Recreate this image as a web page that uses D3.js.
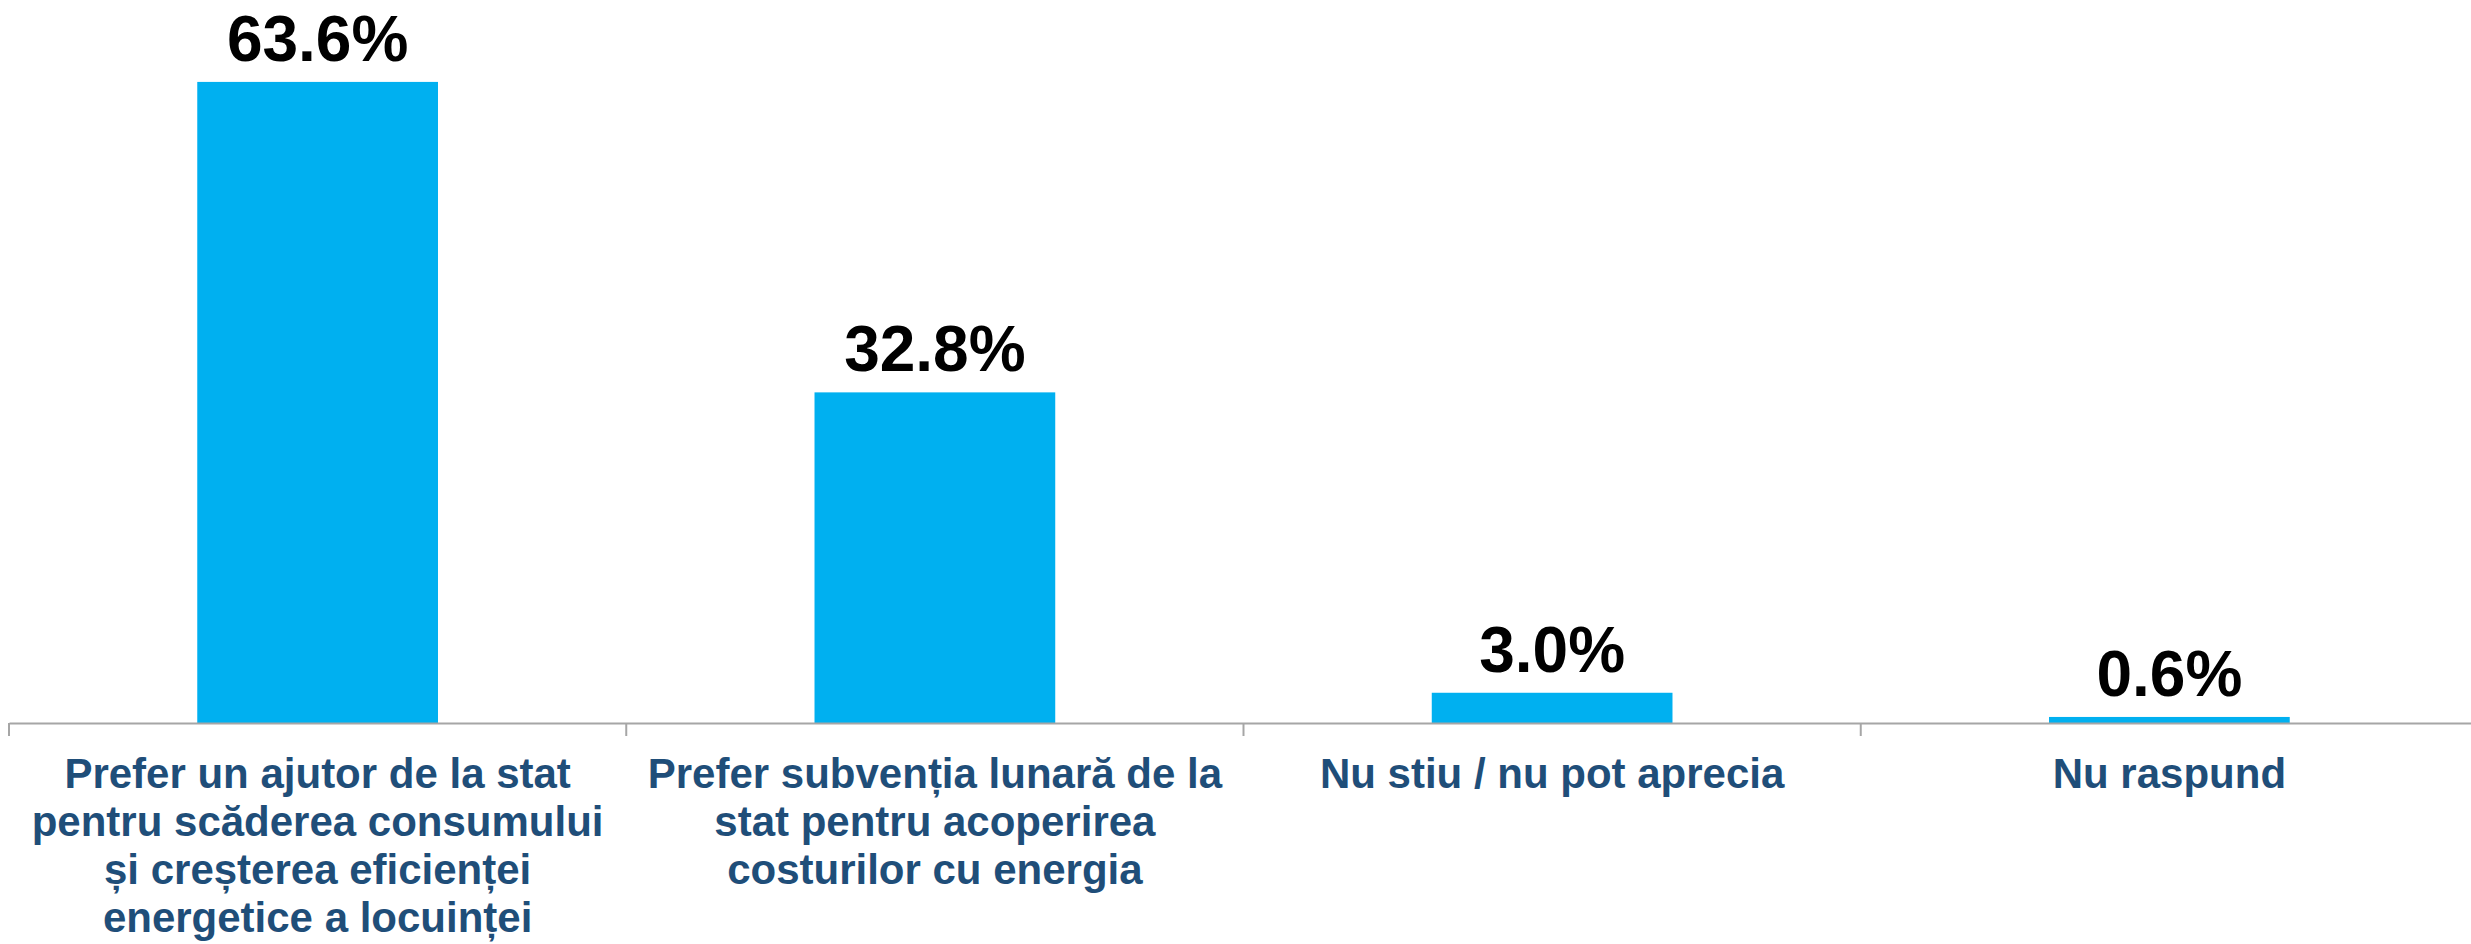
<!DOCTYPE html>
<html>
<head>
<meta charset="utf-8">
<script src="https://cdn.jsdelivr.net/npm/d3@7"></script>
<style>
  body { margin: 0; background: #fff; }
  svg { display: block; font-family: "Liberation Sans", Arial, sans-serif; }
</style>
</head>
<body>
<svg width="2471" height="944"></svg>
<script>
const categories = ['Prefer ajutor', 'Prefer subventia', 'Nu stiu', 'Nu raspund'];
const values = [63.6, 32.8, 3.0, 0.6];
const labelLines = [
    ['Prefer un ajutor de la stat', 'pentru scăderea consumului', 'și creșterea eficienței', 'energetice a locuinței'],
    ['Prefer subvenția lunară de la', 'stat pentru acoperirea', 'costurilor cu energia'],
    ['Nu stiu / nu pot aprecia'],
    ['Nu raspund']
];

const data = categories.map((c, i) => ({ category: c, value: values[i], lines: labelLines[i] }));

const svg = d3.select('svg');
const baseline = 723;

const xScale = d3.scaleBand()
    .domain(categories)
    .range([9, 2478])
    .paddingInner(0.61)
    .paddingOuter(0.305);

const yScale = d3.scaleLinear()
    .domain([0, 70])
    .range([baseline, baseline - 70 * 10.08]);

// bars
svg.append('g').selectAll('rect')
    .data(data)
    .join('rect')
    .attr('x', d => xScale(d.category))
    .attr('y', d => yScale(d.value))
    .attr('width', xScale.bandwidth())
    .attr('height', d => yScale(0) - yScale(d.value))
    .attr('fill', '#00b0f0');

// value labels
svg.append('g').selectAll('text')
    .data(data)
    .join('text')
    .attr('x', d => xScale(d.category) + xScale.bandwidth() / 2)
    .attr('y', d => yScale(d.value) - 21)
    .attr('text-anchor', 'middle')
    .attr('font-size', 64)
    .attr('font-weight', 'bold')
    .attr('fill', '#000')
    .text(d => d.value.toFixed(1) + '%');

// x axis
const xAxisG = svg.append('g')
    .attr('transform', `translate(0, ${baseline})`)
    .call(d3.axisBottom(xScale).tickSize(0).tickFormat(''));
xAxisG.select('.domain').attr('stroke', '#a6a6a6').attr('stroke-width', 2);

// tick marks between categories
xAxisG.selectAll('.sep')
    .data(categories)
    .join('line')
    .attr('class', 'sep')
    .attr('x1', d => xScale(d) - xScale.step() * xScale.paddingOuter())
    .attr('x2', d => xScale(d) - xScale.step() * xScale.paddingOuter())
    .attr('y1', 0)
    .attr('y2', 13)
    .attr('stroke', '#a6a6a6')
    .attr('stroke-width', 2);

// category labels
const labelG = svg.append('g').selectAll('text')
    .data(data)
    .join('text')
    .attr('text-anchor', 'middle')
    .attr('font-size', 42)
    .attr('font-weight', 'bold')
    .attr('fill', '#1f4e79');

labelG.selectAll('tspan')
    .data(d => d.lines.map(line => ({ line, cx: xScale(d.category) + xScale.bandwidth() / 2 })))
    .join('tspan')
    .attr('x', d => d.cx)
    .attr('y', (d, i) => baseline + 65 + i * 48)
    .text(d => d.line);
</script>
</body>
</html>
